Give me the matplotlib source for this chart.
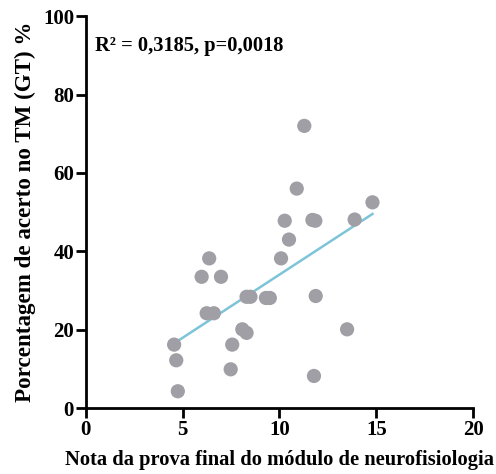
import matplotlib
matplotlib.use("Agg")
import matplotlib.pyplot as plt
import numpy as np

# dados
nota = [4.56, 4.67, 4.75, 5.98, 6.37, 6.98, 6.24, 6.61, 8.3, 8.5, 9.3, 9.5,
        8.08, 8.3, 7.56, 7.48, 10.08, 10.27, 10.49, 10.89, 11.28, 11.7, 11.85,
        13.88, 14.8, 11.87, 13.49, 11.78]
acerto = [16.2, 12.2, 4.3, 33.5, 38.2, 33.5, 24.2, 24.2, 28.4, 28.4, 28.1, 28.1,
          20.1, 19.2, 16.2, 9.9, 38.2, 47.8, 43.0, 56.0, 72.0, 48.0, 47.8,
          48.1, 52.5, 28.6, 20.1, 8.2]

x_ticks = [0, 5, 10, 15, 20]
y_ticks = [0, 20, 40, 60, 80, 100]

plt.rcParams['font.family'] = ['Liberation Serif', 'DejaVu Serif']
plt.rcParams['font.weight'] = 'bold'

fig = plt.figure(figsize=(4.96, 4.74), dpi=100)
ax = fig.add_axes([0.173, 0.139, 0.781, 0.827])

ax.scatter(nota, acerto, s=105, color='#a09fa5', edgecolors='none', zorder=3)

# reta de ajuste
coef = np.polyfit(nota, acerto, 1)
xs = np.linspace(min(nota), max(nota), 50)
ax.plot(xs, np.polyval(coef, xs), color='#7ec4d9', lw=1.8, zorder=2)

ax.set_xlim(0, 20)
ax.set_ylim(0, 100)
ax.set_xticks(x_ticks)
ax.set_xticklabels([str(t) for t in x_ticks], fontsize=15, fontweight='bold')
ax.set_yticks(y_ticks)
ax.set_yticklabels([str(t) for t in y_ticks], fontsize=15, fontweight='bold')
ax.tick_params(width=2, length=7, pad=1.5)

for s in ['top', 'right']:
    ax.spines[s].set_visible(False)
for s in ['left', 'bottom']:
    ax.spines[s].set_linewidth(2)

ax.set_xlabel('Nota da prova final do módulo de neurofisiologia',
              fontsize=14.8, fontweight='bold', labelpad=7)
ax.set_ylabel('Porcentagem de acerto no TM (GT) %',
              fontsize=16.6, fontweight='bold', labelpad=5)

ax.text(0.5, 92.5, 'R² = 0,3185, p=0,0018', fontsize=14.8,
        fontweight='bold', va='center')

fig.savefig('out.png', dpi=100)
